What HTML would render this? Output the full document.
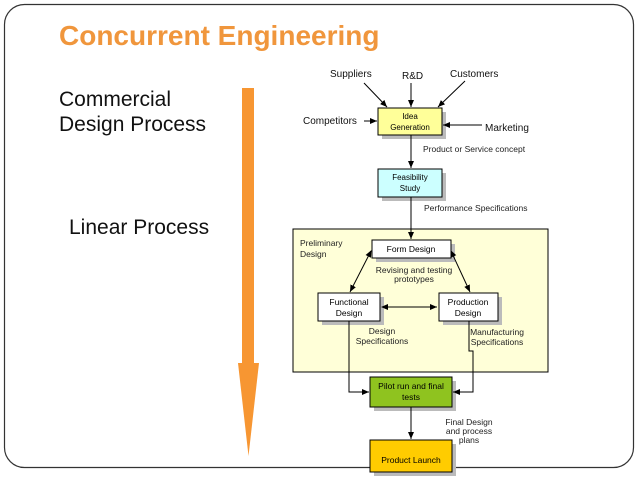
<!DOCTYPE html>
<html><head><meta charset="utf-8"><style>
html,body{margin:0;padding:0;background:#fff;width:638px;height:479px;overflow:hidden}
svg{display:block;font-family:"Liberation Sans",Arial,sans-serif}
</style></head><body>
<svg width="638" height="479" viewBox="0 0 638 479" xmlns="http://www.w3.org/2000/svg">
<defs>
<marker id="a" markerWidth="8" markerHeight="8" refX="7" refY="4" orient="auto" markerUnits="userSpaceOnUse"><path d="M0,1 L7,4 L0,7 z" fill="#000"/></marker>
<marker id="s" markerWidth="8" markerHeight="8" refX="1" refY="4" orient="auto" markerUnits="userSpaceOnUse"><path d="M7,1 L0,4 L7,7 z" fill="#000"/></marker>
</defs>
<rect x="4.5" y="4.5" width="629" height="463" rx="20" fill="#fff" stroke="#333" stroke-width="1.2"/>
<text x="59" y="45" font-size="28" font-weight="bold" fill="#f0963c">Concurrent Engineering</text>
<text x="59" y="106" font-size="21" fill="#111">Commercial</text>
<text x="59" y="131" font-size="21" fill="#111">Design Process</text>
<text x="69" y="234" font-size="21" fill="#111">Linear Process</text>
<rect x="242" y="88" width="12" height="276" fill="#f79632"/>
<polygon points="238,363 259,363 248.5,456" fill="#f79632"/>

<rect x="293" y="229" width="255" height="143" fill="#ffffd8" stroke="#000"/>
<text x="300" y="246" font-size="8.5" fill="#222">Preliminary</text>
<text x="300" y="257" font-size="8.5" fill="#222">Design</text>

<g fill="#bbb">
<rect x="382" y="112" width="64" height="27"/><rect x="382" y="173" width="64" height="28"/>
<rect x="376" y="244" width="79" height="18"/><rect x="322" y="297" width="62" height="28"/>
<rect x="443" y="297" width="59" height="28"/><rect x="374" y="381" width="82" height="30"/>
<rect x="374" y="444" width="82" height="32"/>
</g>
<rect x="378" y="108" width="64" height="27" fill="#ffff99" stroke="#000"/>
<text x="410" y="119" font-size="8" text-anchor="middle">Idea</text>
<text x="410" y="130" font-size="8" text-anchor="middle">Generation</text>
<rect x="378" y="169" width="64" height="28" fill="#ccffff" stroke="#000"/>
<text x="410" y="180" font-size="8" text-anchor="middle">Feasibility</text>
<text x="410" y="191" font-size="8" text-anchor="middle">Study</text>
<rect x="372" y="240" width="79" height="18" fill="#fff" stroke="#000"/>
<text x="411" y="252" font-size="8.5" text-anchor="middle">Form Design</text>
<rect x="318" y="293" width="62" height="28" fill="#fff" stroke="#000"/>
<text x="349" y="305" font-size="8.5" text-anchor="middle">Functional</text>
<text x="349" y="316" font-size="8.5" text-anchor="middle">Design</text>
<rect x="439" y="293" width="59" height="28" fill="#fff" stroke="#000"/>
<text x="468" y="305" font-size="8.5" text-anchor="middle">Production</text>
<text x="468" y="316" font-size="8.5" text-anchor="middle">Design</text>
<rect x="370" y="377" width="82" height="30" fill="#8fc31f" stroke="#000"/>
<text x="411" y="389" font-size="8.5" text-anchor="middle">Pilot run and final</text>
<text x="411" y="400" font-size="8.5" text-anchor="middle">tests</text>
<rect x="370" y="440" width="82" height="32" fill="#ffcc00" stroke="#000"/>
<text x="411" y="463" font-size="8.5" text-anchor="middle">Product Launch</text>

<g font-size="10" fill="#111">
<text x="330" y="77">Suppliers</text>
<text x="402" y="79">R&amp;D</text>
<text x="450" y="77">Customers</text>
<text x="303" y="124">Competitors</text>
<text x="485" y="131">Marketing</text>
</g>
<g font-size="8.5" fill="#222">
<text x="423" y="152">Product or Service concept</text>
<text x="424" y="211">Performance Specifications</text>
<text x="414" y="273" text-anchor="middle">Revising and testing</text>
<text x="414" y="282" text-anchor="middle">prototypes</text>
<text x="382" y="334" text-anchor="middle">Design</text>
<text x="382" y="344" text-anchor="middle">Specifications</text>
<text x="497" y="335" text-anchor="middle">Manufacturing</text>
<text x="497" y="345" text-anchor="middle">Specifications</text>
<text x="469" y="425" text-anchor="middle">Final Design</text>
<text x="469" y="434" text-anchor="middle">and process</text>
<text x="469" y="443" text-anchor="middle">plans</text>
</g>

<g stroke="#000" stroke-width="1" fill="none">
<line x1="364" y1="83" x2="387" y2="107" marker-end="url(#a)"/>
<line x1="411" y1="83" x2="411" y2="107" marker-end="url(#a)"/>
<line x1="465" y1="81" x2="438" y2="107" marker-end="url(#a)"/>
<line x1="364" y1="121" x2="377" y2="121" marker-end="url(#a)"/>
<line x1="482" y1="125" x2="443" y2="125" marker-end="url(#a)"/>
<line x1="411" y1="135" x2="411" y2="168" marker-end="url(#a)"/>
<line x1="411" y1="197" x2="411" y2="239" marker-end="url(#a)"/>
<line x1="371" y1="251" x2="350" y2="292" marker-start="url(#s)" marker-end="url(#a)"/>
<line x1="451" y1="251" x2="470" y2="292" marker-start="url(#s)" marker-end="url(#a)"/>
<line x1="382" y1="307" x2="437" y2="307" marker-start="url(#s)" marker-end="url(#a)"/>
<polyline points="349,321 349,392 369,392" marker-end="url(#a)"/>
<polyline points="469,321 469,351 473,351 473,392 453,392" marker-end="url(#a)"/>
<line x1="411" y1="407" x2="411" y2="439" marker-end="url(#a)"/>
</g>
</svg>
</body></html>
